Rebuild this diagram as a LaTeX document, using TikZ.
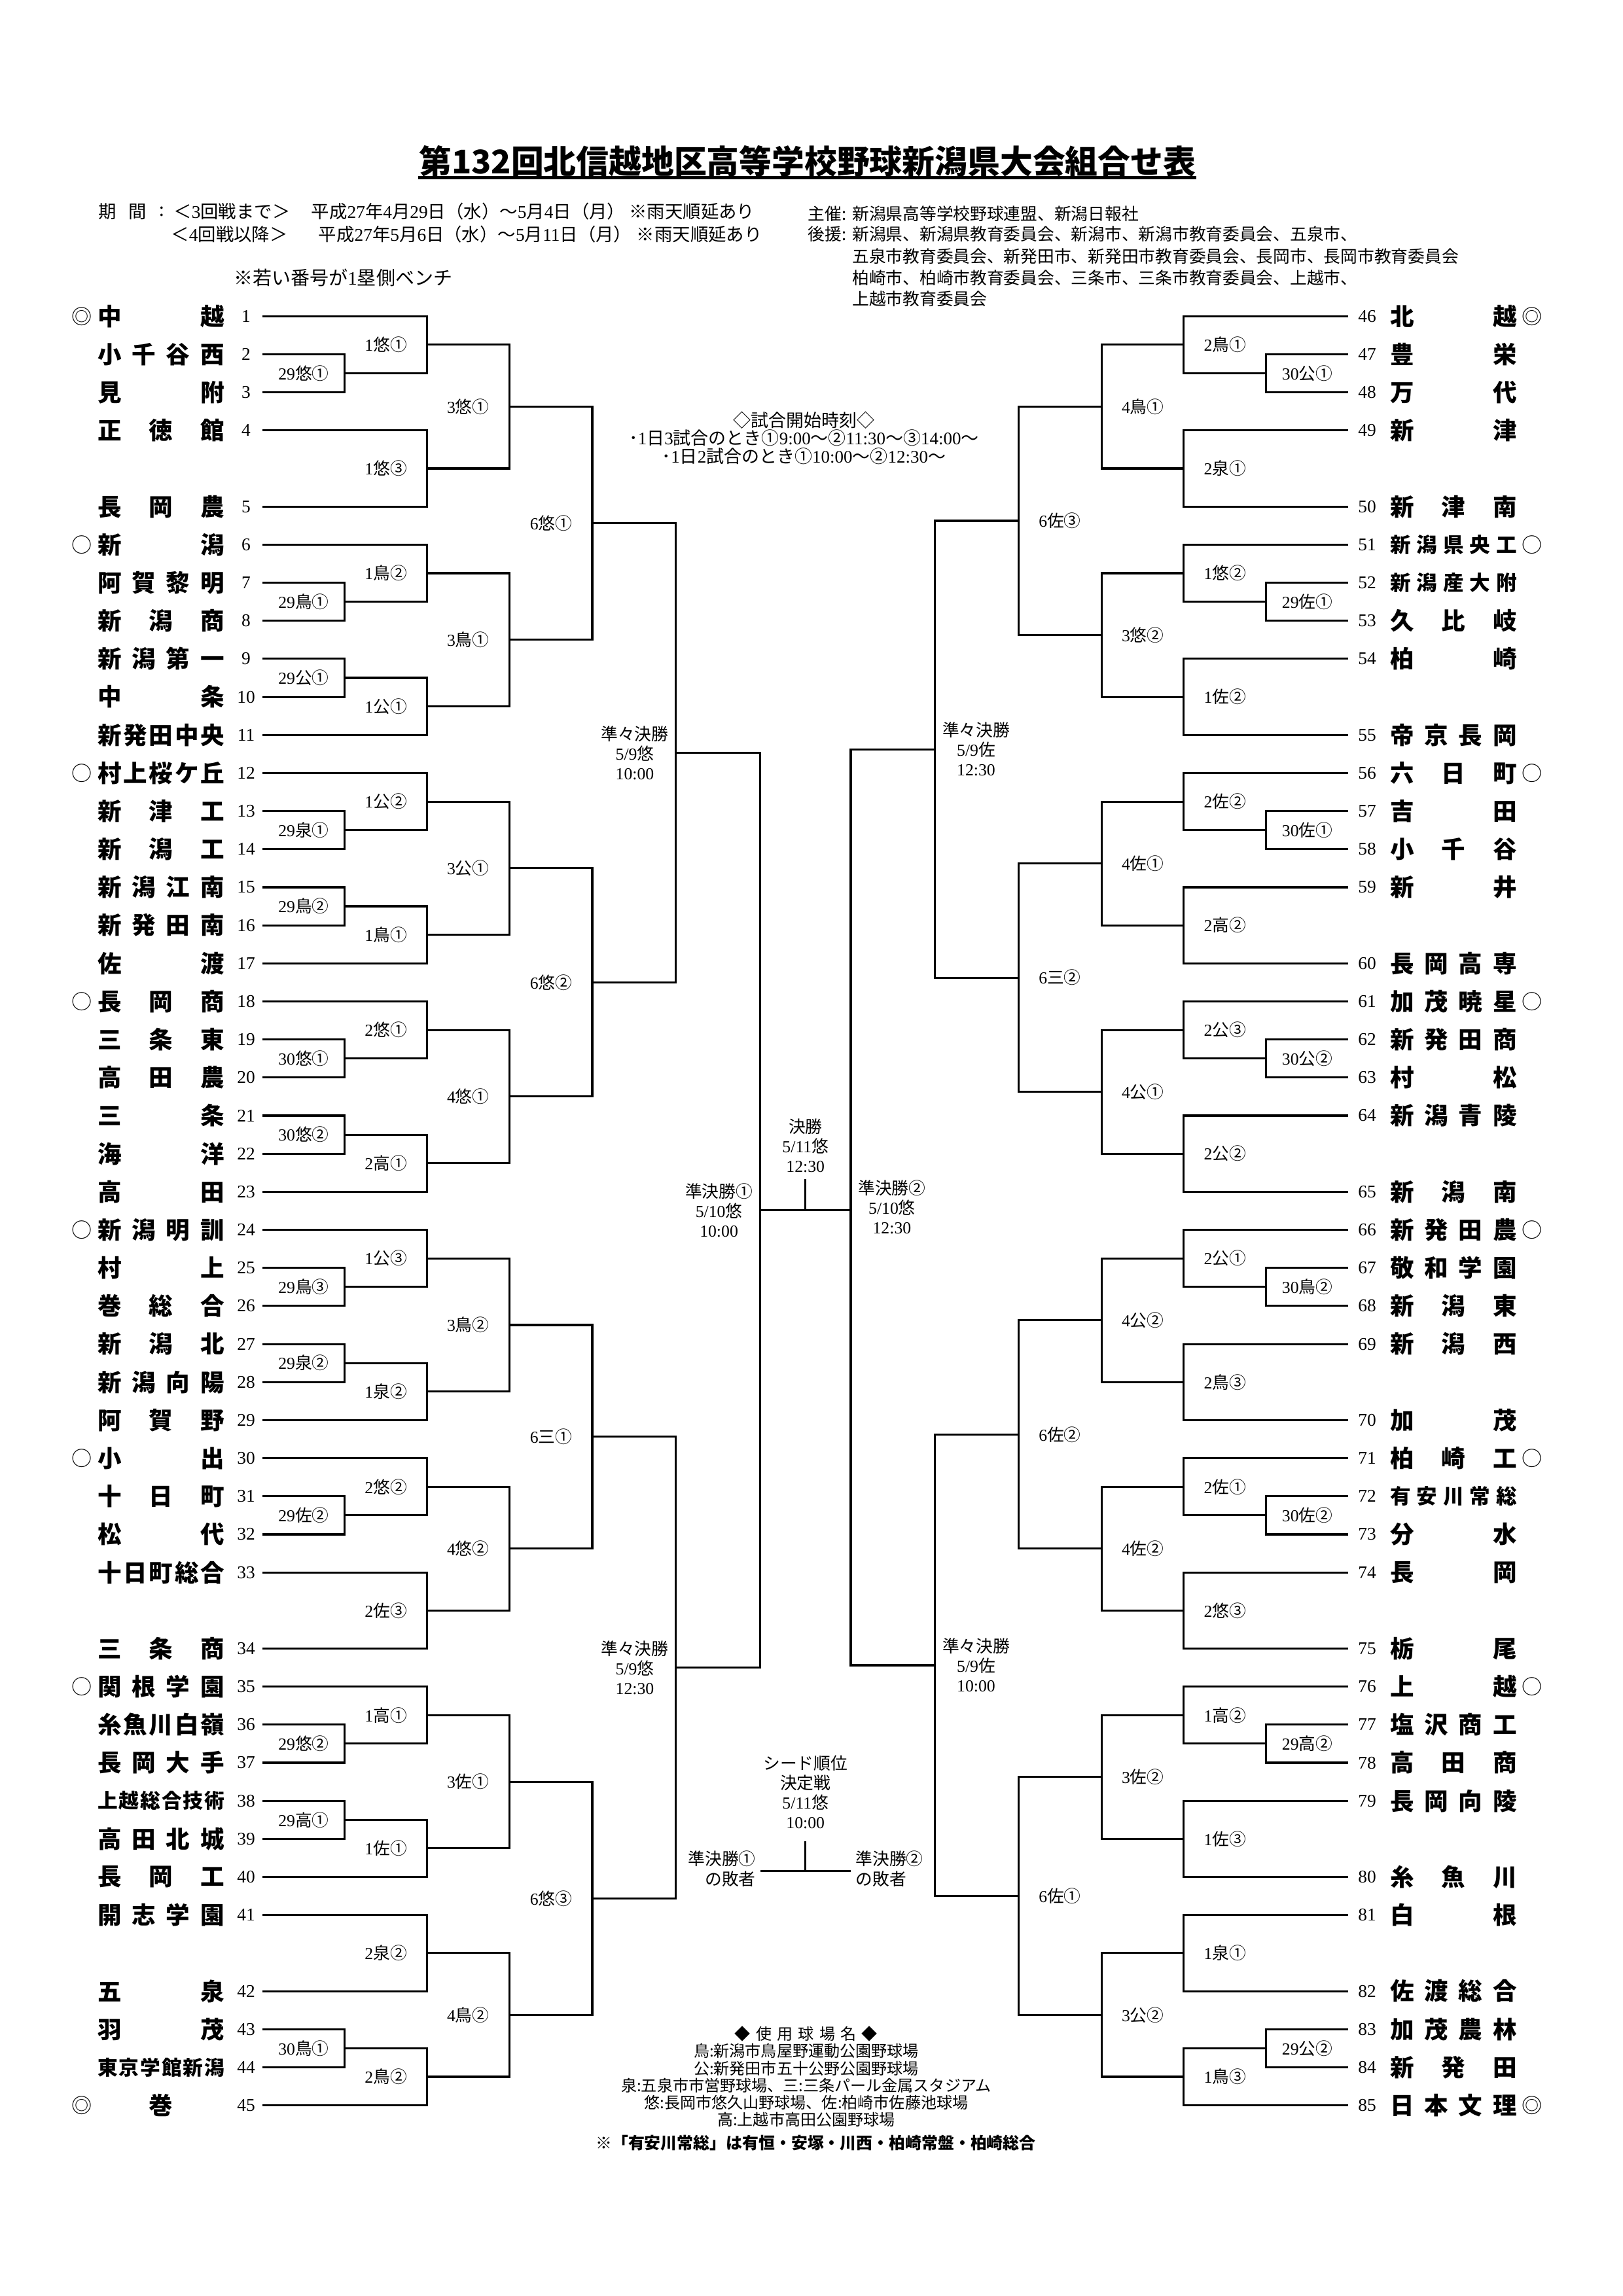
\documentclass[tikz,border=0pt]{standalone}
\usepackage{fontspec}
\setmainfont{Noto Sans CJK JP}
\newfontfamily\nm{Liberation Serif}
\usetikzlibrary{calc}
\newlength\nbw
\setlength\nbw{16.37mm}
\makeatletter
\def\spr#1{\spr@a#1\@nil}
\def\spr@a#1#2\@nil{#1\if\relax\detokenize{#2}\relax\else\hfill\spr@a#2\@nil\fi}
\makeatother
\newcommand\dg[1]{{\nm #1}}
\tikzset{
  br/.style={line width=0.75pt},
  lab/.style={inner sep=0pt, align=center, font=\fontsize{6.2}{7.2}\selectfont},
  num/.style={inner sep=0pt, font=\nm\fontsize{6.6}{7}\selectfont},
  tname/.style={inner sep=0pt, font=\bfseries\fontsize{8.8}{9}\selectfont},
  tsmall/.style={inner sep=0pt, font=\bfseries\fontsize{7.4}{8}\selectfont},
  tmid/.style={inner sep=0pt, font=\bfseries\fontsize{7.6}{8}\selectfont},
  mk/.style={inner sep=0pt, font=\fontsize{7.5}{8}\selectfont},
  hdr/.style={inner sep=0pt, anchor=west, font=\fontsize{6.6}{7}\selectfont},
  hdrr/.style={inner sep=0pt, anchor=west, font=\fontsize{6.2}{7}\selectfont},
}
% left team: num,row,name,mark,style
\newcommand\lteam[5]{%
  \pgfmathsetmacro\yy{215+25.88*#2}
  \coordinate (t#1) at (178.5,\yy);
  \node[num] (n#1) at (167.3,\yy) {#1};
  \node[#5] (s#1) at (109.5,\yy) {\makebox[\nbw]{\spr{#3}}};
  \if\relax\detokenize{#4}\relax\else\node[mk] (m#1) at (55.5,\yy) {#4};\fi
}
\newcommand\rteam[5]{%
  \pgfmathsetmacro\yy{215+25.88*#2}
  \coordinate (t#1) at (916.5,\yy);
  \node[num] (n#1) at (929.3,\yy) {#1};
  \node[#5] (s#1) at (988,\yy) {\makebox[\nbw]{\spr{#3}}};
  \if\relax\detokenize{#4}\relax\else\node[mk] (m#1) at (1041.2,\yy) {#4};\fi
}
% game: name, inputA, inputB, level, label offset, label
\newcommand\game[6]{%
  \draw[br] (#2) -- (#2 -| #4) -- (#3 -| #4) -- (#3);
  \coordinate (#1) at ($(#2 -| #4)!.5!(#3 -| #4)$);
  \node[lab] (#1l) at ($(#1)+(#5,0)$) {#6};
}
\begin{document}
\begin{tikzpicture}[x=0.19036mm, y=-0.19036mm]
\path[use as bounding box, fill=white] (0,0) rectangle (1103.2,1561);

% ---------- title and header ----------
\node[inner sep=0pt, font=\bfseries\fontsize{12}{14}\selectfont] (title) at (548.8,109.7) {第132回北信越地区高等学校野球新潟県大会組合せ表};
\draw[line width=1.1pt] (title.south west) -- (title.south east);

\node[hdr] (p1) at (66.6,143.8) {期};
\node[hdr] (p2) at (87,143.8) {間};
\node[hdr] (p3) at (108,143.8) {:};
\node[hdr] (h1a) at (117.7,143.8) {＜\dg{3}回戦まで＞};
\node[hdr] (h1b) at (211.3,143.8) {平成\dg{27}年\dg{4}月\dg{29}日（水）～\dg{5}月\dg{4}日（月）};
\node[hdr] (h1c) at (427.4,143.8) {※雨天順延あり};
\node[hdr] (h2a) at (116,159.4) {＜\dg{4}回戦以降＞};
\node[hdr] (h2b) at (216.2,159.4) {平成\dg{27}年\dg{5}月\dg{6}日（水）～\dg{5}月\dg{11}日（月）};
\node[hdr] (h2c) at (432.4,159.4) {※雨天順延あり};
\node[hdr, font=\fontsize{7}{8}\selectfont] (bench) at (158.5,189) {※若い番号が\dg{1}塁側ベンチ};

\node[hdrr] (q1a) at (549,145.3) {主催:};
\node[hdrr] (q1b) at (579,145.3) {新潟県高等学校野球連盟、新潟日報社};
\node[hdrr] (q2a) at (549,159.3) {後援:};
\node[hdrr] (q2b) at (579,159.3) {新潟県、新潟県教育委員会、新潟市、新潟市教育委員会、五泉市、};
\node[hdrr] (q3b) at (579,174.2) {五泉市教育委員会、新発田市、新発田市教育委員会、長岡市、長岡市教育委員会};
\node[hdrr] (q4b) at (579,189) {柏崎市、柏崎市教育委員会、三条市、三条市教育委員会、上越市、};
\node[hdrr] (q5b) at (579,203.2) {上越市教育委員会};

\node[lab, font=\fontsize{6.5}{6.6}\selectfont] (tm) at (546.5,297.8) {◇試合開始時刻◇\\･\dg{1}日\dg{3}試合のとき①\dg{9:00}～②\dg{11:30}～③\dg{14:00}～\\･\dg{1}日\dg{2}試合のとき①\dg{10:00}～②\dg{12:30}～};

% ---------- levels ----------
\coordinate (L0) at (178.5,0);
\coordinate (L1) at (234.4,0);
\coordinate (L2) at (290.3,0);
\coordinate (L3) at (346.2,0);
\coordinate (L4) at (402.6,0);
\coordinate (L5) at (459.5,0);
\coordinate (L6) at (516.7,0);
\coordinate (R1) at (860.6,0);
\coordinate (R2) at (804.7,0);
\coordinate (R3) at (748.8,0);
\coordinate (R4) at (692.4,0);
\coordinate (R5) at (635.5,0);
\coordinate (R6) at (578.3,0);

% ---------- left teams ----------
\lteam{1}{0}{中越}{◎}{tname}
\lteam{2}{1}{小千谷西}{}{tname}
\lteam{3}{2}{見附}{}{tname}
\lteam{4}{3}{正徳館}{}{tname}
\lteam{5}{5}{長岡農}{}{tname}
\lteam{6}{6}{新潟}{○}{tname}
\lteam{7}{7}{阿賀黎明}{}{tname}
\lteam{8}{8}{新潟商}{}{tname}
\lteam{9}{9}{新潟第一}{}{tname}
\lteam{10}{10}{中条}{}{tname}
\lteam{11}{11}{新発田中央}{}{tname}
\lteam{12}{12}{村上桜ケ丘}{○}{tname}
\lteam{13}{13}{新津工}{}{tname}
\lteam{14}{14}{新潟工}{}{tname}
\lteam{15}{15}{新潟江南}{}{tname}
\lteam{16}{16}{新発田南}{}{tname}
\lteam{17}{17}{佐渡}{}{tname}
\lteam{18}{18}{長岡商}{○}{tname}
\lteam{19}{19}{三条東}{}{tname}
\lteam{20}{20}{高田農}{}{tname}
\lteam{21}{21}{三条}{}{tname}
\lteam{22}{22}{海洋}{}{tname}
\lteam{23}{23}{高田}{}{tname}
\lteam{24}{24}{新潟明訓}{○}{tname}
\lteam{25}{25}{村上}{}{tname}
\lteam{26}{26}{巻総合}{}{tname}
\lteam{27}{27}{新潟北}{}{tname}
\lteam{28}{28}{新潟向陽}{}{tname}
\lteam{29}{29}{阿賀野}{}{tname}
\lteam{30}{30}{小出}{○}{tname}
\lteam{31}{31}{十日町}{}{tname}
\lteam{32}{32}{松代}{}{tname}
\lteam{33}{33}{十日町総合}{}{tname}
\lteam{34}{35}{三条商}{}{tname}
\lteam{35}{36}{関根学園}{○}{tname}
\lteam{36}{37}{糸魚川白嶺}{}{tname}
\lteam{37}{38}{長岡大手}{}{tname}
\lteam{38}{39}{上越総合技術}{}{tsmall}
\lteam{39}{40}{高田北城}{}{tname}
\lteam{40}{41}{長岡工}{}{tname}
\lteam{41}{42}{開志学園}{}{tname}
\lteam{42}{44}{五泉}{}{tname}
\lteam{43}{45}{羽茂}{}{tname}
\lteam{44}{46}{東京学館新潟}{}{tsmall}
\lteam{45}{47}{巻}{◎}{tname}

% ---------- right teams ----------
\rteam{46}{0}{北越}{◎}{tname}
\rteam{47}{1}{豊栄}{}{tname}
\rteam{48}{2}{万代}{}{tname}
\rteam{49}{3}{新津}{}{tname}
\rteam{50}{5}{新津南}{}{tname}
\rteam{51}{6}{新潟県央工}{○}{tmid}
\rteam{52}{7}{新潟産大附}{}{tmid}
\rteam{53}{8}{久比岐}{}{tname}
\rteam{54}{9}{柏崎}{}{tname}
\rteam{55}{11}{帝京長岡}{}{tname}
\rteam{56}{12}{六日町}{○}{tname}
\rteam{57}{13}{吉田}{}{tname}
\rteam{58}{14}{小千谷}{}{tname}
\rteam{59}{15}{新井}{}{tname}
\rteam{60}{17}{長岡高専}{}{tname}
\rteam{61}{18}{加茂暁星}{○}{tname}
\rteam{62}{19}{新発田商}{}{tname}
\rteam{63}{20}{村松}{}{tname}
\rteam{64}{21}{新潟青陵}{}{tname}
\rteam{65}{23}{新潟南}{}{tname}
\rteam{66}{24}{新発田農}{○}{tname}
\rteam{67}{25}{敬和学園}{}{tname}
\rteam{68}{26}{新潟東}{}{tname}
\rteam{69}{27}{新潟西}{}{tname}
\rteam{70}{29}{加茂}{}{tname}
\rteam{71}{30}{柏崎工}{○}{tname}
\rteam{72}{31}{有安川常総}{}{tmid}
\rteam{73}{32}{分水}{}{tname}
\rteam{74}{33}{長岡}{}{tname}
\rteam{75}{35}{栃尾}{}{tname}
\rteam{76}{36}{上越}{○}{tname}
\rteam{77}{37}{塩沢商工}{}{tname}
\rteam{78}{38}{高田商}{}{tname}
\rteam{79}{39}{長岡向陵}{}{tname}
\rteam{80}{41}{糸魚川}{}{tname}
\rteam{81}{42}{白根}{}{tname}
\rteam{82}{44}{佐渡総合}{}{tname}
\rteam{83}{45}{加茂農林}{}{tname}
\rteam{84}{46}{新発田}{}{tname}
\rteam{85}{47}{日本文理}{◎}{tname}

% ---------- left bracket ----------
\game{g29y1}{t2}{t3}{L1}{-28}{\dg{29}悠①}
\game{g1y1}{t1}{g29y1}{L2}{-28}{\dg{1}悠①}
\game{g1y3}{t4}{t5}{L2}{-28}{\dg{1}悠③}
\game{g3y1}{g1y1}{g1y3}{L3}{-28}{\dg{3}悠①}
\game{g29t1}{t7}{t8}{L1}{-28}{\dg{29}鳥①}
\game{g1t2}{t6}{g29t1}{L2}{-28}{\dg{1}鳥②}
\game{g29k1}{t9}{t10}{L1}{-28}{\dg{29}公①}
\game{g1k1}{g29k1}{t11}{L2}{-28}{\dg{1}公①}
\game{g3t1}{g1t2}{g1k1}{L3}{-28}{\dg{3}鳥①}
\game{g6y1}{g3y1}{g3t1}{L4}{-28}{\dg{6}悠①}
\game{g29i1}{t13}{t14}{L1}{-28}{\dg{29}泉①}
\game{g1k2}{t12}{g29i1}{L2}{-28}{\dg{1}公②}
\game{g29t2}{t15}{t16}{L1}{-28}{\dg{29}鳥②}
\game{g1t1}{g29t2}{t17}{L2}{-28}{\dg{1}鳥①}
\game{g3k1}{g1k2}{g1t1}{L3}{-28}{\dg{3}公①}
\game{g30y1}{t19}{t20}{L1}{-28}{\dg{30}悠①}
\game{g2y1}{t18}{g30y1}{L2}{-28}{\dg{2}悠①}
\game{g30y2}{t21}{t22}{L1}{-28}{\dg{30}悠②}
\game{g2h1}{g30y2}{t23}{L2}{-28}{\dg{2}高①}
\game{g4y1}{g2y1}{g2h1}{L3}{-28}{\dg{4}悠①}
\game{g6y2}{g3k1}{g4y1}{L4}{-28}{\dg{6}悠②}
\game{gqL1}{g6y1}{g6y2}{L5}{-28}{準々決勝\\\dg{5/9}悠\\\dg{10:00}}
\game{g29t3}{t25}{t26}{L1}{-28}{\dg{29}鳥③}
\game{g1k3}{t24}{g29t3}{L2}{-28}{\dg{1}公③}
\game{g29i2}{t27}{t28}{L1}{-28}{\dg{29}泉②}
\game{g1i2}{g29i2}{t29}{L2}{-28}{\dg{1}泉②}
\game{g3t2}{g1k3}{g1i2}{L3}{-28}{\dg{3}鳥②}
\game{g29s2}{t31}{t32}{L1}{-28}{\dg{29}佐②}
\game{g2y2}{t30}{g29s2}{L2}{-28}{\dg{2}悠②}
\game{g2s3}{t33}{t34}{L2}{-28}{\dg{2}佐③}
\game{g4y2}{g2y2}{g2s3}{L3}{-28}{\dg{4}悠②}
\game{g6m1}{g3t2}{g4y2}{L4}{-28}{\dg{6}三①}
\game{g29y2}{t36}{t37}{L1}{-28}{\dg{29}悠②}
\game{g1h1}{t35}{g29y2}{L2}{-28}{\dg{1}高①}
\game{g29h1}{t38}{t39}{L1}{-28}{\dg{29}高①}
\game{g1s1}{g29h1}{t40}{L2}{-28}{\dg{1}佐①}
\game{g3s1}{g1h1}{g1s1}{L3}{-28}{\dg{3}佐①}
\game{g2i2}{t41}{t42}{L2}{-28}{\dg{2}泉②}
\game{g30t1}{t43}{t44}{L1}{-28}{\dg{30}鳥①}
\game{g2t2}{g30t1}{t45}{L2}{-28}{\dg{2}鳥②}
\game{g4t2}{g2i2}{g2t2}{L3}{-28}{\dg{4}鳥②}
\game{g6y3}{g3s1}{g4t2}{L4}{-28}{\dg{6}悠③}
\game{gqL2}{g6m1}{g6y3}{L5}{-28}{準々決勝\\\dg{5/9}悠\\\dg{12:30}}
\game{gsL}{gqL1}{gqL2}{L6}{-28}{準決勝①\\\dg{5/10}悠\\\dg{10:00}}

% ---------- right bracket ----------
\game{h30k1}{t47}{t48}{R1}{28}{\dg{30}公①}
\game{h2t1}{t46}{h30k1}{R2}{28}{\dg{2}鳥①}
\game{h2i1}{t49}{t50}{R2}{28}{\dg{2}泉①}
\game{h4t1}{h2t1}{h2i1}{R3}{28}{\dg{4}鳥①}
\game{h29s1}{t52}{t53}{R1}{28}{\dg{29}佐①}
\game{h1y2}{t51}{h29s1}{R2}{28}{\dg{1}悠②}
\game{h1s2}{t54}{t55}{R2}{28}{\dg{1}佐②}
\game{h3y2}{h1y2}{h1s2}{R3}{28}{\dg{3}悠②}
\game{h6s3}{h4t1}{h3y2}{R4}{28}{\dg{6}佐③}
\game{h30s1}{t57}{t58}{R1}{28}{\dg{30}佐①}
\game{h2s2}{t56}{h30s1}{R2}{28}{\dg{2}佐②}
\game{h2h2}{t59}{t60}{R2}{28}{\dg{2}高②}
\game{h4s1}{h2s2}{h2h2}{R3}{28}{\dg{4}佐①}
\game{h30k2}{t62}{t63}{R1}{28}{\dg{30}公②}
\game{h2k3}{t61}{h30k2}{R2}{28}{\dg{2}公③}
\game{h2k2}{t64}{t65}{R2}{28}{\dg{2}公②}
\game{h4k1}{h2k3}{h2k2}{R3}{28}{\dg{4}公①}
\game{h6m2}{h4s1}{h4k1}{R4}{28}{\dg{6}三②}
\game{gqR1}{h6s3}{h6m2}{R5}{28}{準々決勝\\\dg{5/9}佐\\\dg{12:30}}
\game{h30t2}{t67}{t68}{R1}{28}{\dg{30}鳥②}
\game{h2k1}{t66}{h30t2}{R2}{28}{\dg{2}公①}
\game{h2t3}{t69}{t70}{R2}{28}{\dg{2}鳥③}
\game{h4k2}{h2k1}{h2t3}{R3}{28}{\dg{4}公②}
\game{h30s2}{t72}{t73}{R1}{28}{\dg{30}佐②}
\game{h2s1}{t71}{h30s2}{R2}{28}{\dg{2}佐①}
\game{h2y3}{t74}{t75}{R2}{28}{\dg{2}悠③}
\game{h4s2}{h2s1}{h2y3}{R3}{28}{\dg{4}佐②}
\game{h6s2}{h4k2}{h4s2}{R4}{28}{\dg{6}佐②}
\game{h29h2}{t77}{t78}{R1}{28}{\dg{29}高②}
\game{h1h2}{t76}{h29h2}{R2}{28}{\dg{1}高②}
\game{h1s3}{t79}{t80}{R2}{28}{\dg{1}佐③}
\game{h3s2}{h1h2}{h1s3}{R3}{28}{\dg{3}佐②}
\game{h1i1}{t81}{t82}{R2}{28}{\dg{1}泉①}
\game{h29k2}{t83}{t84}{R1}{28}{\dg{29}公②}
\game{h1t3}{h29k2}{t85}{R2}{28}{\dg{1}鳥③}
\game{h3k2}{h1i1}{h1t3}{R3}{28}{\dg{3}公②}
\game{h6s1}{h3s2}{h3k2}{R4}{28}{\dg{6}佐①}
\game{gqR2}{h6s2}{h6s1}{R5}{28}{準々決勝\\\dg{5/9}佐\\\dg{10:00}}
\game{gsR}{gqR1}{gqR2}{R6}{28}{準決勝②\\\dg{5/10}悠\\\dg{12:30}}

% ---------- final ----------
\draw[br] (gsL) -- (gsL -| gsR);
\coordinate (fin) at ($(gsL)!.5!(gsL -| gsR)$);
\coordinate (finT) at ($(fin)+(0,-21)$);
\draw[br] (fin) -- (finT);
\node[lab] (finl) at (547.5,779) {決勝\\\dg{5/11}悠\\\dg{12:30}};

% ---------- seed playoff ----------
\coordinate (sdL) at (516.7,1272);
\coordinate (sdR) at (578.3,1272);
\coordinate (sdM) at (547.5,1272);
\coordinate (sdT) at (547.5,1251.8);
\draw[br] (sdL) -- (sdR);
\draw[br] (sdM) -- (sdT);
\node[lab] (sdl) at (547.5,1218.4) {シード順位\\決定戦\\\dg{5/11}悠\\\dg{10:00}};
\node[lab, align=right, anchor=east, font=\fontsize{6.2}{7.4}\selectfont] (sd1) at (514,1270.5) {準決勝①\\の敗者};
\node[lab, align=left, anchor=west, font=\fontsize{6.2}{7.4}\selectfont] (sd2) at (581.4,1270.5) {準決勝②\\の敗者};

% ---------- legend ----------
\node[lab, font=\fontsize{5.8}{6.3}\selectfont] (leg) at (548,1411.8) {◆\hspace{0.7mm}使\hspace{0.7mm}用\hspace{0.7mm}球\hspace{0.7mm}場\hspace{0.7mm}名\hspace{0.7mm}◆\\鳥:新潟市鳥屋野運動公園野球場\\公:新発田市五十公野公園野球場\\泉:五泉市市営野球場、三:三条パール金属スタジアム\\悠:長岡市悠久山野球場、佐:柏崎市佐藤池球場\\高:上越市高田公園野球場};
\node[inner sep=0pt, font=\bfseries\fontsize{6}{7}\selectfont] (note) at (554.5,1457) {※「有安川常総」は有恒・安塚・川西・柏崎常盤・柏崎総合};
\end{tikzpicture}
\end{document}
